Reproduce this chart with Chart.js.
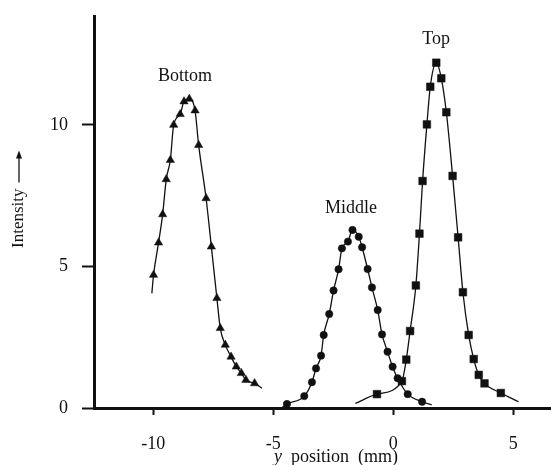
<!DOCTYPE html>
<html>
<head>
<meta charset="utf-8">
<script src="https://cdn.jsdelivr.net/npm/chart.js@4.4.1/dist/chart.umd.min.js"></script>
<style>
  html, body { margin: 0; padding: 0; background: #fff; overflow: hidden; }
  canvas { display: block; }
</style>
</head>
<body>
<canvas id="grafico" width="551" height="465"></canvas>
<script>
// Dados (posição y em mm, intensidade)
const bottomX = [-9.99, -9.78, -9.61, -9.46, -9.29, -9.15, -8.88, -8.72, -8.50, -8.26, -8.11, -7.80, -7.58, -7.35, -7.21, -7.00, -6.76, -6.54, -6.33, -6.14, -5.78];
const bottomY = [4.70, 5.84, 6.84, 8.08, 8.76, 10.0, 10.38, 10.83, 10.92, 10.51, 9.29, 7.41, 5.70, 3.88, 2.82, 2.23, 1.81, 1.46, 1.23, 0.99, 0.87];
const bottomFitStart = [-10.06, 4.05];
const bottomFitEnd = [-5.47, 0.70];

const middleX = [-4.43, -3.71, -3.39, -3.22, -3.01, -2.90, -2.67, -2.49, -2.28, -2.14, -1.89, -1.70, -1.44, -1.30, -1.07, -0.89, -0.65, -0.47, -0.24, -0.03, 0.18, 0.60, 1.20];
const middleY = [0.14, 0.42, 0.91, 1.40, 1.85, 2.58, 3.32, 4.15, 4.90, 5.64, 5.88, 6.29, 6.05, 5.68, 4.91, 4.26, 3.46, 2.60, 1.99, 1.46, 1.05, 0.49, 0.22];
const middleFitStart = [-4.65, 0.0];
const middleFitEnd = [1.60, 0.11];

const topX = [-0.68, 0.36, 0.54, 0.70, 0.94, 1.09, 1.22, 1.40, 1.54, 1.79, 2.00, 2.21, 2.47, 2.70, 2.90, 3.14, 3.35, 3.56, 3.80, 4.48];
const topY = [0.49, 0.95, 1.71, 2.72, 4.33, 6.16, 8.02, 10.02, 11.35, 12.2, 11.65, 10.45, 8.20, 6.03, 4.09, 2.58, 1.73, 1.17, 0.87, 0.53];
const topFitStart = [-1.58, 0.16];
const topFitEnd = [5.22, 0.22];

// Rótulos das curvas e eixos
const seriesNames = ['Bottom', 'Middle', 'Top'];
const labelX = [-8.68, -1.76, 1.78];
const labelY = [11.73, 7.07, 13.04];
const xTicks = [-10, -5, 0, 5];
const yTicks = [0, 5, 10];

const fonte = "'Liberation Serif', 'Times New Roman', serif";
const tinta = '#111';

function pontos(xs, ys) {
  return xs.map((x, i) => ({ x: x, y: ys[i] }));
}

function curva(inicio, xs, ys, fim) {
  return [{ x: inicio[0], y: inicio[1] }, ...pontos(xs, ys), { x: fim[0], y: fim[1] }];
}

function serieCurva(dados) {
  return {
    data: dados,
    showLine: true,
    borderColor: tinta,
    borderWidth: 1.3,
    pointRadius: 0,
    cubicInterpolationMode: 'monotone',
    fill: false
  };
}

function serieMarcas(dados, estilo, raio) {
  return {
    data: dados,
    showLine: false,
    pointStyle: estilo,
    pointRadius: raio,
    pointBackgroundColor: tinta,
    pointBorderColor: tinta,
    pointBorderWidth: 0.5
  };
}

// Textos desenhados sobre o gráfico
const pluginTextos = {
  id: 'textos',
  afterDraw(chart) {
    const ctx = chart.ctx;
    const sx = chart.scales.x;
    const sy = chart.scales.y;
    ctx.save();
    ctx.fillStyle = tinta;
    ctx.strokeStyle = tinta;
    ctx.font = '18px ' + fonte;
    ctx.textAlign = 'center';
    ctx.textBaseline = 'middle';
    seriesNames.forEach((nome, i) => {
      ctx.fillText(nome, sx.getPixelForValue(labelX[i]), sy.getPixelForValue(labelY[i]));
    });

    // título do eixo x: "y" em itálico
    ctx.font = '18px ' + fonte;
    const resto = '  position  (mm)';
    const wResto = ctx.measureText(resto).width;
    ctx.font = 'italic 18px ' + fonte;
    const wY = ctx.measureText('y').width;
    const x0 = 336 - (wY + wResto) / 2;
    ctx.textAlign = 'left';
    ctx.fillText('y', x0, 457);
    ctx.font = '18px ' + fonte;
    ctx.fillText(resto, x0 + wY, 457);

    // título do eixo y com seta
    ctx.translate(19, 248);
    ctx.rotate(-Math.PI / 2);
    ctx.font = '17px ' + fonte;
    ctx.textAlign = 'left';
    ctx.fillText('Intensity', 0, 0);
    const wI = ctx.measureText('Intensity').width;
    ctx.lineWidth = 1.3;
    ctx.beginPath();
    ctx.moveTo(wI + 6, 0);
    ctx.lineTo(wI + 34, 0);
    ctx.stroke();
    ctx.beginPath();
    ctx.moveTo(wI + 38, 0);
    ctx.lineTo(wI + 30, -3);
    ctx.lineTo(wI + 30, 3);
    ctx.closePath();
    ctx.fill();
    ctx.restore();
  }
};

document.addEventListener('DOMContentLoaded', () => {
  const ctx = document.getElementById('grafico').getContext('2d');
  new Chart(ctx, {
    type: 'scatter',
    data: {
      datasets: [
        serieCurva(curva(bottomFitStart, bottomX, bottomY, bottomFitEnd)),
        serieCurva(curva(middleFitStart, middleX, middleY, middleFitEnd)),
        serieCurva(curva(topFitStart, topX, topY, topFitEnd)),
        serieMarcas(pontos(bottomX, bottomY), 'triangle', 4.8),
        serieMarcas(pontos(middleX, middleY), 'circle', 3.7),
        serieMarcas(pontos(topX, topY), 'rect', 5.4)
      ]
    },
    options: {
      responsive: false,
      animation: false,
      layout: { autoPadding: false, padding: { top: 16, right: 0, left: 0, bottom: 0 } },
      plugins: {
        legend: { display: false },
        tooltip: { enabled: false }
      },
      scales: {
        x: {
          type: 'linear',
          min: -12.47,
          max: 6.57,
          afterFit: scale => {
            scale.height = 57;
            scale.paddingLeft = 0;
            scale.paddingRight = 0;
          },
          afterBuildTicks: scale => { scale.ticks = xTicks.map(v => ({ value: v })); },
          border: { display: true, color: tinta, width: 3 },
          grid: { drawOnChartArea: false, drawTicks: true, tickLength: 7, tickWidth: 2, tickColor: tinta },
          ticks: { color: tinta, padding: 18, maxRotation: 0, font: { family: fonte, size: 18 } }
        },
        y: {
          type: 'linear',
          min: 0,
          max: 13.85,
          afterFit: scale => {
            scale.width = 94;
            scale.paddingTop = 0;
            scale.paddingBottom = 0;
          },
          afterBuildTicks: scale => { scale.ticks = yTicks.map(v => ({ value: v })); },
          border: { display: true, color: tinta, width: 3 },
          grid: { drawOnChartArea: false, drawTicks: true, tickLength: 12, tickWidth: 2, tickColor: tinta },
          ticks: { color: tinta, padding: 14, font: { family: fonte, size: 18 } }
        }
      }
    },
    plugins: [pluginTextos]
  });
});
</script>
</body>
</html>
